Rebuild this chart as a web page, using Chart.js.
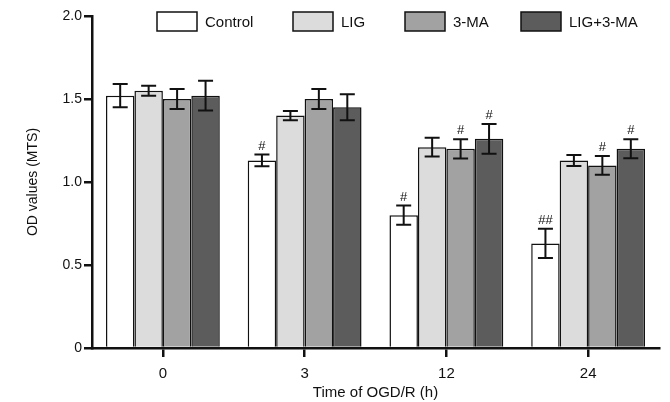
<!DOCTYPE html>
<html>
<head>
<meta charset="utf-8">
<script src="https://cdn.jsdelivr.net/npm/chart.js@4"></script>
<style>
  html, body { margin: 0; padding: 0; background: #fff; }
  #wrap { width: 670px; height: 402px; }
</style>
</head>
<body>
<div id="wrap"><canvas id="odChart"></canvas></div>
<script>
// Data
const categories = ['0', '3', '12', '24'];
const seriesNames = ['Control', 'LIG', '3-MA', 'LIG+3-MA'];

const controlValues = [1.52, 1.13, 0.80, 0.63];
const ligValues = [1.55, 1.40, 1.21, 1.13];
const maValues = [1.50, 1.50, 1.20, 1.10];
const ligMaValues = [1.52, 1.45, 1.26, 1.20];

const controlErrors = [0.07, 0.035, 0.058, 0.088];
const ligErrors = [0.03, 0.028, 0.057, 0.033];
const maErrors = [0.06, 0.06, 0.058, 0.057];
const ligMaErrors = [0.09, 0.078, 0.09, 0.057];

// significance marks above the error bars
const controlMarks = ['', '#', '#', '##'];
const ligMarks = ['', '', '', ''];
const maMarks = ['', '', '#', '#'];
const ligMaMarks = ['', '', '#', '#'];

const yTicks = [0, 0.5, 1.0, 1.5, 2.0];

const barColors = ['#ffffff', '#dcdcdc', '#a2a2a2', '#5c5c5c'];
const FONT = '"Liberation Sans", Arial, sans-serif';

// legend placement (top, overlapping the plot like the original)
const legendX = [157, 293, 405, 521];
const legendTop = 12;
const legendBoxW = 40;
const legendBoxH = 19;

const allValues = [controlValues, ligValues, maValues, ligMaValues];
const allErrors = [controlErrors, ligErrors, maErrors, ligMaErrors];
const allMarks = [controlMarks, ligMarks, maMarks, ligMaMarks];

// Error bars + "#" marks
const errorBarPlugin = {
  id: 'errorBars',
  afterDatasetsDraw(chart) {
    const ctx = chart.ctx;
    const yScale = chart.scales.y;
    ctx.save();
    ctx.strokeStyle = '#111';
    ctx.lineWidth = 2;
    ctx.fillStyle = '#111';
    ctx.font = '13px ' + FONT;
    ctx.textAlign = 'center';
    ctx.textBaseline = 'alphabetic';
    chart.data.datasets.forEach((ds, i) => {
      const meta = chart.getDatasetMeta(i);
      meta.data.forEach((bar, j) => {
        const v = allValues[i][j];
        const e = allErrors[i][j];
        const x = bar.x;
        const yHi = yScale.getPixelForValue(v + e);
        const yLo = yScale.getPixelForValue(v - e);
        const cap = 7.5;
        ctx.beginPath();
        ctx.moveTo(x, yHi); ctx.lineTo(x, yLo);
        ctx.moveTo(x - cap, yHi); ctx.lineTo(x + cap, yHi);
        ctx.moveTo(x - cap, yLo); ctx.lineTo(x + cap, yLo);
        ctx.stroke();
        const mark = allMarks[i][j];
        if (mark) ctx.fillText(mark, x, yHi - 5);
      });
    });
    ctx.restore();
  }
};

// Boxed legend drawn over the plot
const legendPlugin = {
  id: 'boxLegend',
  afterDraw(chart) {
    const ctx = chart.ctx;
    ctx.save();
    ctx.font = '15px ' + FONT;
    ctx.textBaseline = 'middle';
    ctx.textAlign = 'left';
    chart.data.datasets.forEach((ds, i) => {
      const x = legendX[i];
      ctx.fillStyle = ds.backgroundColor;
      ctx.fillRect(x, legendTop, legendBoxW, legendBoxH);
      ctx.lineWidth = 1.5;
      ctx.strokeStyle = '#111';
      ctx.strokeRect(x, legendTop, legendBoxW, legendBoxH);
      ctx.fillStyle = '#111';
      ctx.fillText(ds.label, x + legendBoxW + 8, legendTop + legendBoxH / 2 + 1);
    });
    ctx.restore();
  }
};

const datasets = seriesNames.map((name, i) => ({
  label: name,
  data: allValues[i],
  backgroundColor: barColors[i],
  borderColor: '#111',
  borderWidth: 1.5,
  categoryPercentage: 0.803,
  barPercentage: 1.0
}));

const ctx = document.getElementById('odChart').getContext('2d');
new Chart(ctx, {
  type: 'bar',
  data: { labels: categories, datasets: datasets },
  options: {
    responsive: true,
    maintainAspectRatio: false,
    animation: false,
    layout: { padding: { top: 16, right: 11, left: 0, bottom: 0 } },
    plugins: {
      legend: { display: false },
      tooltip: { enabled: false }
    },
    scales: {
      x: {
        offset: true,
        grid: {
          offset: false,
          drawOnChartArea: false,
          drawTicks: true,
          tickLength: 9,
          lineWidth: 2.5,
          color: '#111'
        },
        border: { display: true, color: '#111', width: 2.5 },
        ticks: { color: '#111', padding: 8, font: { family: FONT, size: 15 } },
        title: {
          display: true,
          text: 'Time of OGD/R (h)',
          color: '#111',
          font: { family: FONT, size: 15 },
          padding: { top: 0, bottom: 0 }
        },
        afterFit(scale) { scale.height = 54; }
      },
      y: {
        min: 0,
        max: 2,
        afterBuildTicks(scale) { scale.ticks = yTicks.map(v => ({ value: v })); },
        grid: {
          drawOnChartArea: false,
          drawTicks: true,
          tickLength: 8,
          lineWidth: 2.5,
          color: '#111'
        },
        border: { display: true, color: '#111', width: 2.5 },
        ticks: {
          color: '#111',
          padding: 2,
          font: { family: FONT, size: 14 },
          callback: v => (v === 0 ? '0' : Number(v).toFixed(1))
        },
        title: {
          display: true,
          text: 'OD values (MTS)',
          color: '#111',
          font: { family: FONT, size: 14 },
          padding: { top: 25, bottom: 0 }
        },
        afterFit(scale) { scale.width = 92; }
      }
    }
  },
  plugins: [errorBarPlugin, legendPlugin]
});
</script>
</body>
</html>
